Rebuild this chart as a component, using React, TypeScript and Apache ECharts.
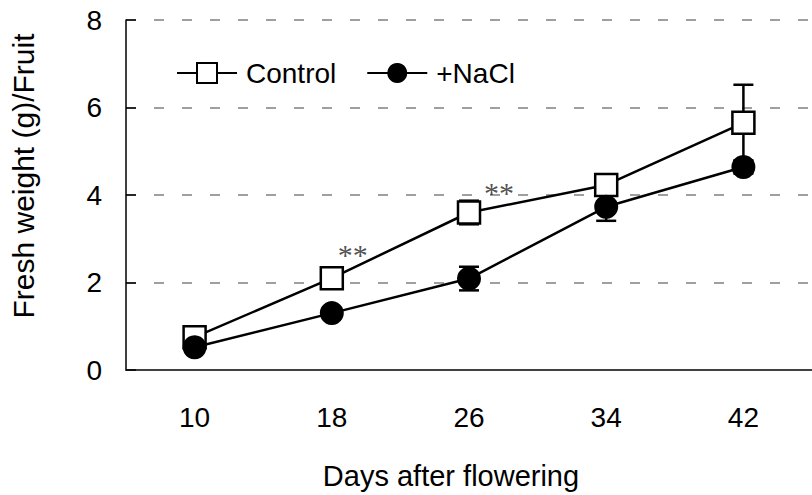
import React, { useEffect, useRef } from "react";
import * as echarts from "echarts";

const categories = ["10", "18", "26", "34", "42"];
const controlValues = [0.75, 2.1, 3.6, 4.23, 5.65];
const controlErrors = [0.05, 0.08, 0.27, 0.1, 0.87];
const naclValues = [0.52, 1.3, 2.09, 3.73, 4.64];
const naclErrors = [0.05, 0.08, 0.27, 0.32, 0.15];
const starPoints = [
  [1, 2.65],
  [2, 4.05],
];
const starOffsets = [21, 30];
const yTicks = { min: 0, max: 8, interval: 2 };

const FONT = "'Liberation Sans', Arial, sans-serif";

export default function App() {
  const ref = useRef<HTMLDivElement>(null);
  useEffect(() => {
    document.body.style.margin = "0";
    const chart = echarts.init(ref.current!, null, { renderer: "svg" });
    const errData = (vals: number[], errs: number[]) =>
      vals.map((v, i) => [i, v, errs[i]]);
    const renderErr = (params: any, api: any) => {
      const x = api.value(0);
      const y = api.value(1);
      const e = api.value(2);
      const top = api.coord([x, y + e]);
      const bot = api.coord([x, y - e]);
      const hw = 10;
      const st = { stroke: "#000", lineWidth: 2.5 };
      return {
        type: "group",
        children: [
          { type: "line", shape: { x1: top[0], y1: top[1], x2: bot[0], y2: bot[1] }, style: st },
          { type: "line", shape: { x1: top[0] - hw, y1: top[1], x2: top[0] + hw, y2: top[1] }, style: st },
          { type: "line", shape: { x1: bot[0] - hw, y1: bot[1], x2: bot[0] + hw, y2: bot[1] }, style: st },
        ],
      };
    };
    chart.setOption({
      animation: false,
      textStyle: { fontFamily: FONT },
      grid: { left: 125, top: 20, right: -10, bottom: 123 },
      legend: {
        data: ["Control", "+NaCl"],
        left: 176,
        top: 59,
        padding: 0,
        itemWidth: 60,
        itemHeight: 25,
        itemGap: 30,
        textStyle: { fontSize: 28, color: "#000", fontFamily: FONT, padding: [0, 0, 0, 4] },
      },
      xAxis: {
        type: "category",
        data: categories,
        boundaryGap: true,
        name: "Days after flowering",
        nameLocation: "middle",
        nameGap: 91,
        nameTextStyle: { fontSize: 29, color: "#000", fontFamily: FONT, padding: [0, 36, 0, 0] },
        axisLine: { lineStyle: { color: "#404040", width: 2 } },
        axisTick: { inside: true, length: 10, lineStyle: { color: "#666", width: 1.5 } },
        axisLabel: { fontSize: 28, color: "#000", margin: 33, fontFamily: FONT },
        splitLine: { show: false },
      },
      yAxis: {
        type: "value",
        min: yTicks.min,
        max: yTicks.max,
        interval: yTicks.interval,
        name: "Fresh weight (g)/Fruit",
        nameLocation: "middle",
        nameGap: 88,
        nameTextStyle: { fontSize: 30, color: "#000", fontFamily: FONT, padding: [0, 0, 0, 38] },
        axisLine: { show: true, lineStyle: { color: "#000", width: 1.5 } },
        axisTick: { show: true, inside: true, length: 10, lineStyle: { color: "#000", width: 1.5 } },
        axisLabel: { fontSize: 28, color: "#000", margin: 24, fontFamily: FONT },
        splitLine: { show: true, lineStyle: { color: "#808080", width: 1.5, type: [10, 18] } },
      },
      series: [
        {
          type: "custom",
          name: "errControl",
          data: errData(controlValues, controlErrors),
          renderItem: renderErr,
          z: 1,
          encode: { x: 0, y: 1 },
        },
        {
          type: "custom",
          name: "errNaCl",
          data: errData(naclValues, naclErrors),
          renderItem: renderErr,
          z: 1,
          encode: { x: 0, y: 1 },
        },
        {
          type: "line",
          name: "Control",
          data: controlValues,
          symbol: "rect",
          symbolSize: 22,
          z: 3,
          lineStyle: { color: "#000", width: 2.5 },
          itemStyle: { color: "#fff", borderColor: "#000", borderWidth: 2.5 },
        },
        {
          type: "line",
          name: "+NaCl",
          data: naclValues,
          symbol: "circle",
          symbolSize: 24,
          z: 4,
          lineStyle: { color: "#000", width: 2.5 },
          itemStyle: { color: "#000", borderColor: "#000", borderWidth: 0 },
        },
        {
          type: "scatter",
          name: "stars",
          data: starPoints.map((p, i) => ({
            value: p,
            label: {
              show: true,
              formatter: "**",
              position: "inside",
              offset: [starOffsets[i], 0],
              fontSize: 30,
              color: "#222",
              fontFamily: "'Liberation Serif', 'Times New Roman', serif",
            },
          })),
          symbolSize: 0,
          z: 5,
          silent: true,
        },
      ],
    });
    return () => chart.dispose();
  }, []);
  return <div ref={ref} style={{ width: 812, height: 495 }} />;
}
